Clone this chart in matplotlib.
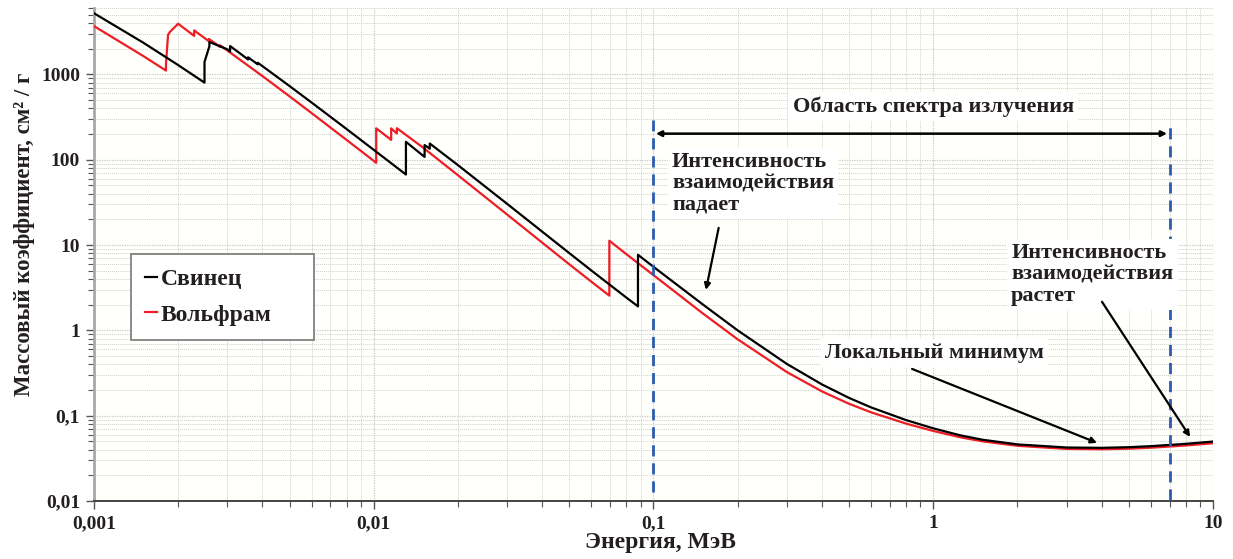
import matplotlib
matplotlib.use('Agg')
from matplotlib import pyplot as plt
from matplotlib.ticker import FixedLocator, FixedFormatter, LogLocator, NullFormatter

# энергия, МэВ и массовый коэффициент ослабления, см2/г (скачки на краях поглощения)
pb_energy = [1.0e-3, 1.5e-3, 2.0e-3, 2.484e-3, 2.484e-3, 2.534e-3, 2.586e-3, 2.586e-3,
             3.0e-3, 3.066e-3, 3.066e-3, 3.301e-3, 3.554e-3, 3.554e-3, 3.699e-3,
             3.851e-3, 3.851e-3, 4.0e-3, 5.0e-3, 6.0e-3, 8.0e-3, 1.0e-2,
             1.3035e-2, 1.3035e-2, 1.5e-2, 1.52e-2, 1.52e-2, 1.5527e-2, 1.5861e-2,
             1.5861e-2, 2.0e-2, 3.0e-2, 4.0e-2, 5.0e-2, 6.0e-2, 8.0e-2, 8.8004e-2,
             8.8004e-2, 0.1, 0.15, 0.2, 0.3, 0.4, 0.5, 0.6, 0.8, 1.0, 1.25, 1.5,
             2.0, 3.0, 4.0, 5.0, 6.0, 8.0, 10.0]
pb_mu = [5210, 2356, 1285, 800.6, 1397, 1726, 2135, 2399,
         1965, 1857, 2148, 1796, 1496, 1585, 1442,
         1311, 1368, 1251, 730.4, 467.2, 228.7, 130.6,
         67.01, 162.1, 111.6, 107.8, 148.5, 141.6, 134.4,
         154.8, 86.36, 30.32, 14.36, 8.041, 5.021, 2.419, 1.910,
         7.683, 5.549, 2.014, 0.9985, 0.4031, 0.2323, 0.1614, 0.1248, 0.0887, 0.07102, 0.05876, 0.05222,
         0.04606, 0.04234, 0.04197, 0.04272, 0.04391, 0.04675, 0.04972]

w_energy = [1.0e-3, 1.5e-3, 1.809e-3, 1.809e-3, 1.84e-3, 1.872e-3, 1.872e-3, 2.0e-3,
            2.281e-3, 2.281e-3, 2.4235e-3, 2.575e-3, 2.575e-3, 2.6976e-3, 2.821e-3,
            2.821e-3, 3.0e-3, 4.0e-3, 5.0e-3, 6.0e-3, 8.0e-3, 1.0e-2,
            1.0207e-2, 1.0207e-2, 1.0855e-2, 1.1544e-2, 1.1544e-2, 1.181e-2, 1.21e-2,
            1.21e-2, 1.5e-2, 2.0e-2, 3.0e-2, 4.0e-2, 5.0e-2, 6.0e-2, 6.9525e-2,
            6.9525e-2, 8.0e-2, 0.1, 0.15, 0.2, 0.3, 0.4, 0.5, 0.6, 0.8, 1.0, 1.25, 1.5,
            2.0, 3.0, 4.0, 5.0, 6.0, 8.0, 10.0]
w_mu = [3683, 1643, 1108, 1327, 2901, 3170, 3170, 3922,
        2828, 3279, 2833, 2445, 2599, 2339, 2104,
        2194, 1902, 956.4, 553.4, 351.4, 170.5, 96.91,
        92.01, 233.4, 199.5, 170.5, 233.1, 217.4, 203.0,
        233.8, 138.9, 65.73, 22.73, 10.67, 5.949, 3.713, 2.552,
        11.23, 7.81, 4.438, 1.581, 0.7844, 0.3238, 0.1925, 0.1378, 0.1093, 0.08066, 0.06618, 0.05577, 0.05,
        0.04433, 0.04075, 0.04038, 0.04103, 0.0421, 0.04472, 0.04747]

x_ticks = [0.001, 0.01, 0.1, 1, 10]
x_labels = ['0,001', '0,01', '0,1', '1', '10']
y_ticks = [0.01, 0.1, 1, 10, 100, 1000]
y_labels = ['0,01', '0,1', '1', '10', '100', '1000']

spectrum_lo, spectrum_hi = 0.1, 7.0

txt = '#231f20'
font = {'family': 'Liberation Serif', 'weight': 'bold', 'color': txt}

fig = plt.figure(figsize=(12.33, 5.59), dpi=100)
ax = fig.add_axes([0.0762, 0.1038, 0.9076, 0.8819])
ax.set_facecolor('#fffffb')

ax.plot(w_energy, w_mu, color='#ee1d24', lw=1.6, label='Вольфрам', zorder=3)
ax.plot(pb_energy, pb_mu, color='black', lw=1.6, label='Свинец', zorder=4)

ax.set_xscale('log')
ax.set_yscale('log')
ax.set_xlim(0.001, 10)
ax.set_ylim(0.01, 6000)

ax.xaxis.set_major_locator(FixedLocator(x_ticks))
ax.xaxis.set_major_formatter(FixedFormatter(x_labels))
ax.yaxis.set_major_locator(FixedLocator(y_ticks))
ax.yaxis.set_major_formatter(FixedFormatter(y_labels))
for a in (ax.xaxis, ax.yaxis):
    a.set_minor_locator(LogLocator(base=10, subs=range(2, 10), numticks=20))
    a.set_minor_formatter(NullFormatter())

ax.grid(which='major', color='#c8c8c8', ls=(0, (1, 1)), lw=0.9)
ax.grid(which='minor', color='#d0d0d0', ls=(0, (1, 1)), lw=0.7)
ax.tick_params(which='major', length=6, width=1, color='#555555', pad=4)
ax.tick_params(which='minor', length=4, width=0.8, color='#555555')
for lab in ax.get_xticklabels() + ax.get_yticklabels():
    lab.set_fontfamily('Liberation Serif')
    lab.set_fontweight('bold')
    lab.set_fontsize(14)
    lab.set_color(txt)

for s in ('top', 'right'):
    ax.spines[s].set_visible(False)
ax.spines['left'].set_color('#a8a8a8')
ax.spines['left'].set_linewidth(2)
ax.spines['bottom'].set_color('#444444')
ax.spines['bottom'].set_linewidth(1.4)

ax.set_xlabel('Энергия, МэВ', fontdict=font, fontsize=17)
ax.xaxis.set_label_coords(0.506, -0.062)
ax.set_ylabel('Массовый коэффициент, см² / г', fontdict=font, fontsize=16.5)
ax.yaxis.set_label_coords(-0.053, 0.54)

# границы области спектра
ax.plot([spectrum_lo, spectrum_lo], [0.0128, 294], color='#2b5bb0', lw=2, ls=(0, (4, 2.5)), zorder=5)
ax.plot([spectrum_hi, spectrum_hi], [0.0103, 244], color='#2b5bb0', lw=2, ls=(0, (4, 2.5)), zorder=5)
ax.annotate('', xy=(0.102, 202), xytext=(6.85, 202),
            arrowprops=dict(arrowstyle='<|-|>', color='black', lw=1.8,
                            mutation_scale=8, shrinkA=0, shrinkB=0), zorder=6)

box = dict(facecolor='white', edgecolor='none', pad=3)
ax.text(1.0, 420, 'Область спектра излучения', fontdict=font, fontsize=16,
        ha='center', va='center', bbox=box, zorder=6)
ax.text(0.1165, 124, 'Интенсивность\nвзаимодействия\nпадает', fontdict=font, fontsize=16,
        ha='left', va='top', linespacing=1.1, bbox=box, zorder=6)
ax.text(1.9, 10.6, 'Интенсивность\nвзаимодействия\nрастет', fontdict=font, fontsize=16,
        ha='left', va='top', linespacing=1.1, bbox=box, zorder=6)
ax.text(0.41, 0.545, 'Локальный минимум', fontdict=font, fontsize=16,
        ha='left', va='center', bbox=box, zorder=6)

arrow = dict(arrowstyle='-|>', color='black', lw=1.6, mutation_scale=9, shrinkA=0, shrinkB=0)
ax.annotate('', xy=(0.154, 2.98), xytext=(0.171, 15.9), arrowprops=arrow, zorder=6)
ax.annotate('', xy=(8.28, 0.0563), xytext=(4.01, 2.16), arrowprops=arrow, zorder=6)
ax.annotate('', xy=(3.85, 0.048), xytext=(0.84, 0.353), arrowprops=arrow, zorder=6)

handles, labels = ax.get_legend_handles_labels()
leg = ax.legend(handles[::-1], labels[::-1], loc='lower left',
                bbox_to_anchor=(0.033, 0.327, 0.164, 0.17), mode='expand',
                prop={'family': 'Liberation Serif', 'weight': 'bold', 'size': 17},
                handlelength=0.5, handletextpad=0.15, borderpad=0.6, labelspacing=0.6,
                fancybox=False, framealpha=1, edgecolor='#777777', borderaxespad=0)
leg.get_frame().set_linewidth(1.2)
leg.set_zorder(7)
for t in leg.get_texts():
    t.set_color(txt)

fig.savefig('out.png', dpi=100, facecolor='white')
